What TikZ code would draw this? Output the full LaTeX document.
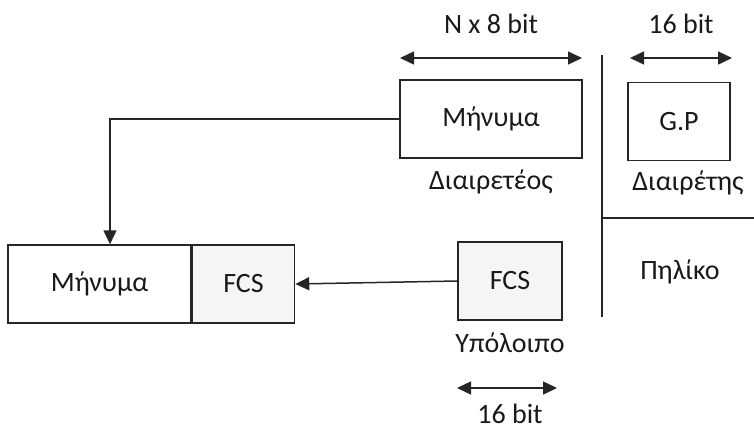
\documentclass[tikz,border=0pt]{standalone}
\usepackage{fontspec}
\setmainfont{Carlito}
\usetikzlibrary{arrows.meta,positioning}
\begin{document}
\begin{tikzpicture}[x=1pt,y=-1pt,
  box/.style={draw=black!85,line width=1.5pt,minimum height=78pt,inner sep=0pt,text=black!90,font=\fontsize{28}{32}\selectfont},
  shaded/.style={box,fill=black!4},
  lbl/.style={font=\fontsize{28}{32}\selectfont,text=black!90,inner sep=0pt},
  link/.style={draw=black!85,line width=1.5pt,-{Triangle[length=14pt,width=13pt]}},
  span/.style={draw=black!85,line width=1.5pt,{Triangle[length=14pt,width=13pt]}-{Triangle[length=14pt,width=13pt]}},
  rule/.style={draw=black!85,line width=1.5pt}]
\useasboundingbox (0,0) rectangle (754,437);
% dividend, divisor and remainder
\node[box,minimum width=182pt] (msg) at (491,119) {Μήνυμα};
\node[box,minimum width=102pt] (gp) at (679,121.5) {G.P};
\node[shaded,minimum width=104pt] (rem) at (510,281) {FCS};
% transmitted frame
\node[box,minimum width=183pt] (fmsg) at (99.5,284) {Μήνυμα};
\node[shaded,minimum width=102pt,anchor=west] (ffcs) at (fmsg.east) {FCS};
% captions
\node[lbl] (ldiv) at (491,182) {Διαιρετέος};
\node[lbl] (lgp) at (688,183) {Διαιρέτης};
\node[lbl] (lq) at (680,272) {Πηλίκο};
\node[lbl] (lrem) at (510,343) {Υπόλοιπο};
% widths
\coordinate (a1) at (400,58); \coordinate (a2) at (582,58);
\coordinate (b1) at (630,58); \coordinate (b2) at (732,58);
\coordinate (c1) at (457,388); \coordinate (c2) at (557,388);
\draw[span] (a1) -- (a2);
\draw[span] (b1) -- (b2);
\draw[span] (c1) -- (c2);
\node[lbl] (wn) at (491,24) {N x 8 bit};
\node[lbl] (wg) at (681,24) {16 bit};
\node[lbl] (wr) at (510,414) {16 bit};
% division bracket
\coordinate (v1) at (602,55); \coordinate (v2) at (602,317);
\coordinate (h2) at (754,218);
\draw[rule] (v1) -- (v2);
\draw[rule] (v1 |- h2) -- (h2);
% data flow
\draw[link] (msg.west) -| ([xshift=10.5pt]fmsg.north);
\draw[link] (rem.west) -- (ffcs.east);
\end{tikzpicture}
\end{document}
